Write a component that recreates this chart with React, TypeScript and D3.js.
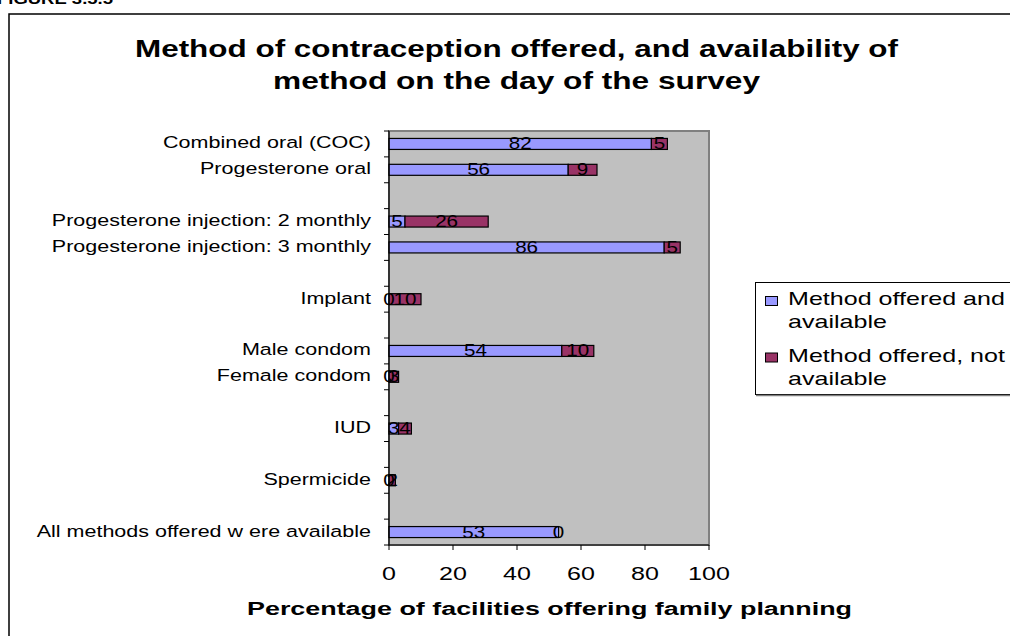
import React from "react";
import * as d3 from "d3";

const categories = [
  "Combined oral (COC)",
  "Progesterone oral",
  "",
  "Progesterone injection: 2 monthly",
  "Progesterone injection: 3 monthly",
  "",
  "Implant",
  "",
  "Male condom",
  "Female condom",
  "",
  "IUD",
  "",
  "Spermicide",
  "",
  "All methods offered w ere available",
];
const offeredAvailable: (number | null)[] = [82, 56, null, 5, 86, null, 0, null, 54, 0, null, 3, null, 0, null, 53];
const offeredNotAvailable: (number | null)[] = [5, 9, null, 26, 5, null, 10, null, 10, 3, null, 4, null, 2, null, 0];
const xTicks = [0, 20, 40, 60, 80, 100];
const seriesNames = ["Method offered and available", "Method offered, not available"];
const legendLines = [["Method offered and", "available"], ["Method offered, not", "available"]];
const seriesColors = ["#9999FF", "#993366"];
const titleLines = ["Method of contraception offered, and availability of", "method on the day of the survey"];
const xTitle = "Percentage of facilities offering family planning";
const figureLabel = "FIGURE 3.5.5";

const FONT = "'Liberation Sans', Arial, sans-serif";
const SX = 1.32;

function T(props: { x: number; y: number; size: number; anchor?: string; bold?: boolean; sx?: number; children: React.ReactNode }) {
  const { x, y, size, anchor = "start", bold = false, sx = SX, children } = props;
  return (
    <text
      transform={`translate(${x},${y}) scale(${sx},1)`}
      textAnchor={anchor as any}
      fontFamily={FONT}
      fontSize={size}
      fontWeight={bold ? "bold" : "normal"}
      fill="#000"
    >
      {children}
    </text>
  );
}

export default function App() {
  const X0 = 389, X1 = 709, Y0 = 131, Y1 = 545;
  const x = d3.scaleLinear().domain([0, 100]).range([X0, X1]);
  const y = d3
    .scaleBand<number>()
    .domain(d3.range(categories.length))
    .range([Y0, Y1])
    .paddingInner(0.575)
    .paddingOuter(0.2875);

  const table = categories
    .map((c, i) => ({ i, a: offeredAvailable[i], b: offeredNotAvailable[i] }))
    .filter((d) => d.a !== null && d.b !== null)
    .map((d) => ({ i: d.i, a: d.a as number, b: d.b as number }));
  const stack = d3.stack<any>().keys(["a", "b"]);
  const layers = stack(table);
  const step = y.step();
  const bounds = d3.range(categories.length + 1).map((k) => Y0 + k * step);

  return (
    <svg width={1010} height={636} style={{ position: "absolute", left: 0, top: 0, background: "#fff" }}>
      <rect x={0} y={0} width={1010} height={636} fill="#fff" />
      <T x={-3} y={4} size={14} bold>{figureLabel}</T>
      <rect x={9} y={14} width={1100} height={700} fill="none" stroke="#000" strokeWidth={1.5} />

      <text x={516.5} y={57} textAnchor="middle" fontFamily={FONT} fontSize={23.5} fontWeight="bold" textLength={763} lengthAdjust="spacingAndGlyphs">{titleLines[0]}</text>
      <text x={516.5} y={89} textAnchor="middle" fontFamily={FONT} fontSize={23.5} fontWeight="bold" textLength={487} lengthAdjust="spacingAndGlyphs">{titleLines[1]}</text>

      <rect x={X0} y={Y0} width={X1 - X0} height={Y1 - Y0} fill="#C0C0C0" stroke="#808080" strokeWidth={2} />

      {layers.map((layer, li) =>
        layer.map((seg: any, si: number) => {
          const row = table[si];
          const yy = y(row.i)!;
          return (
            <rect
              key={`b${li}-${si}`}
              x={x(seg[0])}
              y={yy}
              width={Math.max(0, x(seg[1]) - x(seg[0]))}
              height={y.bandwidth()}
              fill={seriesColors[li]}
              stroke="#000"
              strokeWidth={1.2}
            />
          );
        })
      )}

      <line x1={X0} x2={X0} y1={Y0} y2={Y1} stroke="#000" strokeWidth={1.2} />
      <line x1={X0} x2={X1} y1={Y1} y2={Y1} stroke="#000" strokeWidth={1.2} />
      {bounds.map((b, k) => (
        <line key={`yt${k}`} x1={X0 - 5} x2={X0} y1={b} y2={b} stroke="#000" strokeWidth={1} />
      ))}
      {xTicks.map((t) => (
        <g key={`xt${t}`}>
          <line x1={x(t)} x2={x(t)} y1={Y1} y2={Y1 + 5} stroke="#000" strokeWidth={1} />
          <T x={x(t)} y={580} size={19} anchor="middle">{String(t)}</T>
        </g>
      ))}

      {layers.map((layer, li) =>
        layer.map((seg: any, si: number) => {
          const row = table[si];
          const cy = y(row.i)! + y.bandwidth() / 2;
          const v = seg[1] - seg[0];
          return (
            <T key={`l${li}-${si}`} x={(x(seg[0]) + x(seg[1])) / 2} y={cy + 5.5} size={16.5} anchor="middle" sx={1.25}>
              {String(v)}
            </T>
          );
        })
      )}

      {categories.map((c, i) =>
        c ? (
          <T key={`c${i}`} x={371} y={y(i)! + y.bandwidth() / 2 + 4.5} size={16.3} anchor="end">{c}</T>
        ) : null
      )}

      <text x={549.5} y={615} textAnchor="middle" fontFamily={FONT} fontSize={18} fontWeight="bold" textLength={605} lengthAdjust="spacingAndGlyphs">{xTitle}</text>

      <g>
        <rect x={755.5} y={282.5} width={300} height={112} fill="#fff" stroke="#000" strokeWidth={1} />
        <line x1={756} x2={1010} y1={395.5} y2={395.5} stroke="#808080" strokeWidth={1.5} />
        {seriesNames.map((s, k) => (
          <g key={s}>
            <rect x={765.5} y={296.5 + k * 56.5} width={12} height={9} fill={seriesColors[k]} stroke="#000" strokeWidth={1} />
            <T x={788} y={305 + k * 56.5} size={19}>{legendLines[k][0]}</T>
            <T x={788} y={328 + k * 56.5} size={19}>{legendLines[k][1]}</T>
          </g>
        ))}
      </g>
    </svg>
  );
}
